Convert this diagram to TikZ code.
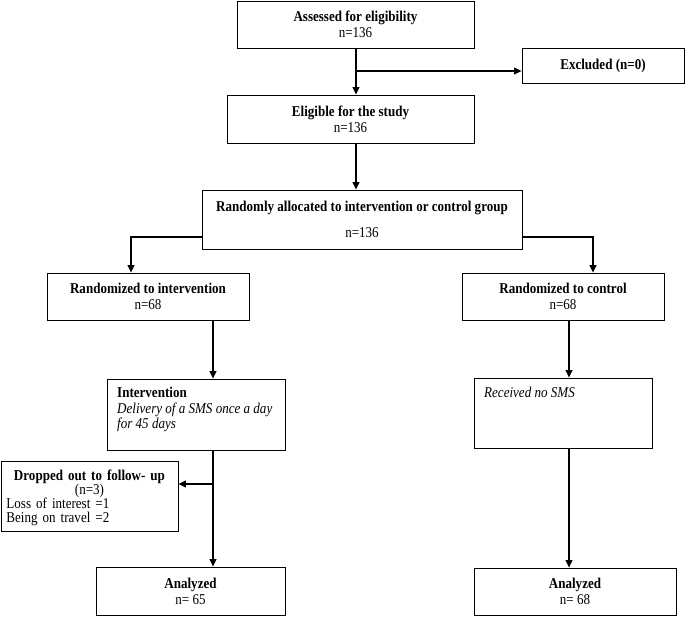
\documentclass[tikz,border=0pt]{standalone}
\usepackage{fontspec}
\setmainfont[FakeStretch=0.87]{Liberation Serif}
\usetikzlibrary{arrows.meta}
\begin{document}
\begin{tikzpicture}[x=1pt,y=-1pt,
  box/.style={draw, line width=0.9pt, inner sep=0pt, font=\fontsize{15}{16}\selectfont, align=center},
  txt/.style={inner sep=0pt, font=\fontsize{15}{15.5}\selectfont},
  conn/.style={line width=1.1pt, -{Triangle[length=7.5pt,width=7pt]}}]
\useasboundingbox (0,0) rectangle (685,616);
% boxes
\node[box, minimum width=237pt, minimum height=47pt] (A) at (355.5,24.5) {\textbf{Assessed for eligibility}\\n=136};
\node[box, minimum width=162pt, minimum height=35pt] (Ex) at (603,65.5) {\textbf{Excluded (n=0)}};
\node[box, minimum width=247pt, minimum height=48pt] (E) at (350.5,119) {\textbf{Eligible for the study}\\n=136};
\node[box, minimum width=320pt, minimum height=59pt] (R) at (362,219.5) {\textbf{Randomly allocated to intervention or control group}\\[10pt]n=136};
\node[box, minimum width=202pt, minimum height=47pt] (RI) at (148,296.5) {\textbf{Randomized to intervention}\\n=68};
\node[box, minimum width=202pt, minimum height=47pt] (RC) at (563,296.5) {\textbf{Randomized to control}\\n=68};
\node[box, minimum width=178pt, minimum height=71pt] (I) at (196,414.5) {};
\node[txt, anchor=north west, align=left] (It) at (117,387) {\textbf{Intervention}\\\textit{Delivery of a SMS once a day}\\\textit{for 45 days}};
\node[box, minimum width=178pt, minimum height=70pt] (RN) at (563,413) {};
\node[txt, anchor=base west] (RNt) at (484,397) {\textit{Received no SMS}};
\node[box, minimum width=177pt, minimum height=70pt] (D) at (89.5,496) {};
\node[txt, anchor=north, text width=166pt, align=left,
      font=\fontsize{15}{14}\selectfont] (Dt) at (89.5,470)
  {{\centering\textbf{Dropped out to follow- up}\\(n=3)\par}Loss of interest =1\\Being on travel =2};
\node[box, minimum width=189pt, minimum height=48pt] (AL) at (190.5,591) {\textbf{Analyzed}\\n= 65};
\node[box, minimum width=202pt, minimum height=47pt] (AR) at (575,591.5) {\textbf{Analyzed}\\n= 68};
% helper coordinates
\coordinate (b1) at (356,71);
\coordinate (rb) at (0,237);
\coordinate (xl) at (131,0);
\coordinate (xr) at (593,0);
\coordinate (xi) at (213,0);
\coordinate (xc) at (569,0);
\coordinate (db) at (213,484);
% connectors
\draw[conn] (A.south -| b1) -- (b1 |- E.north);
\draw[conn] (b1) -- (b1 -| Ex.west);
\draw[conn] (b1 |- E.south) -- (b1 |- R.north);
\draw[conn] (R.west |- rb) -| (xl |- RI.north);
\draw[conn] (R.east |- rb) -| (xr |- RC.north);
\draw[conn] (xi |- RI.south) -- (xi |- I.north);
\draw[conn] (xc |- RC.south) -- (xc |- RN.north);
\draw[conn] (xi |- I.south) -- (xi |- AL.north);
\draw[conn] (db) -- (db -| D.east);
\draw[conn] (xc |- RN.south) -- (xc |- AR.north);
\end{tikzpicture}
\end{document}
